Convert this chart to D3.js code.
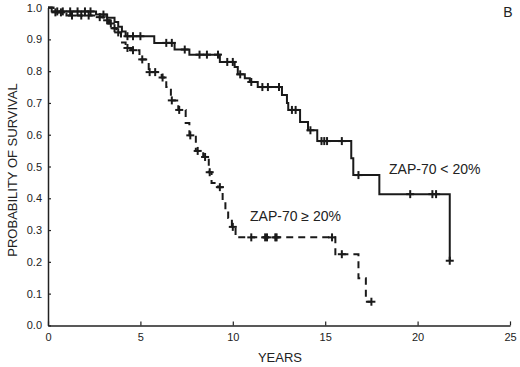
<!DOCTYPE html>
<html><head><meta charset="utf-8">
<script src="https://cdn.jsdelivr.net/npm/d3@7"></script>
<style>
body{margin:0;background:#fff;}
svg{display:block;}
text{font-family:"Liberation Sans",Arial,sans-serif;fill:#222;}
</style></head>
<body>
<svg id="c" width="520" height="367"></svg>
<script>
// ZAP-70 < 20% (solid)
const lowTimes = [0,0.2,2.6,3.2,3.6,3.8,4.0,4.2,5.75,6.85,7.65,9.3,10.1,10.27,10.65,10.92,11.35,12.66,12.93,13.0,13.64,14.07,14.57,16.41,16.52,17.93,21.74];
const lowSurv  = [1.0,0.988,0.978,0.968,0.955,0.94,0.925,0.91,0.889,0.868,0.852,0.829,0.813,0.79,0.778,0.766,0.75,0.725,0.70,0.678,0.64,0.614,0.58,0.526,0.473,0.413,0.2035];
const lowEnd = 21.74;
const lowCensor = [0.5,0.8,1.2,1.6,2.0,2.3,3.0,4.3,4.6,5.0,6.4,6.7,7.4,8.2,8.6,9.2,9.7,10.0,10.4,11.0,11.6,11.9,12.5,13.2,13.4,14.2,14.8,14.95,15.1,15.9,16.8,19.6,20.8,21.0,21.74];

// ZAP-70 >= 20% (dashed)
const highTimes = [0,0.3,1.0,2.7,3.1,3.3,3.5,3.7,3.95,4.2,4.5,4.95,5.45,6.15,6.4,6.65,7.05,7.45,7.65,8.0,8.4,8.7,8.85,9.2,9.45,9.6,9.75,9.95,10.15,15.55,16.8,17.2];
const highSurv  = [1.0,0.985,0.975,0.97,0.96,0.95,0.935,0.922,0.89,0.873,0.866,0.837,0.797,0.78,0.75,0.708,0.678,0.637,0.598,0.549,0.53,0.482,0.448,0.435,0.394,0.362,0.338,0.31,0.277,0.224,0.148,0.0745];
const highEnd = 17.5;
const highCensor = [0.4,0.7,1.3,1.8,2.2,2.8,3.2,3.4,3.6,3.8,4.3,4.6,5.1,5.5,5.8,6.2,6.7,7.1,7.7,8.1,8.5,8.75,9.3,10.0,11.0,11.75,11.85,12.3,12.37,15.37,15.9,17.5];

const xTicks = [0,5,10,15,20,25];
const yTicks = [0,0.1,0.2,0.3,0.4,0.5,0.6,0.7,0.8,0.9,1.0];

const svg = d3.select("#c");
const x = d3.scaleLinear().domain([0,25]).range([48,510]);
const y = d3.scaleLinear().domain([0,1]).range([325.4,7.6]);

// axes
const xAxis = d3.axisBottom(x).tickValues(xTicks).tickSizeInner(-4).tickSizeOuter(0).tickPadding(8).tickFormat(d3.format("d"));
const gx = svg.append("g").attr("transform",`translate(0,${y(0)})`).call(xAxis);
const yAxis = d3.axisLeft(y).tickValues(yTicks).tickSizeInner(-3).tickSizeOuter(0).tickPadding(6).tickFormat(d3.format(".1f"));
const gy = svg.append("g").attr("transform",`translate(${x(0)},0)`).call(yAxis);
[gx,gy].forEach(g=>{
  g.select(".domain").attr("stroke","#222").attr("stroke-width",1.5);
  g.selectAll(".tick line").attr("stroke","#222").attr("stroke-width",1.2);
  g.selectAll(".tick text").style("font-family","'Liberation Sans',Arial,sans-serif").style("font-size","11px").attr("fill","#222");
});

function pts(times, surv, end){
  const p = times.map((t,i)=>[t,surv[i]]);
  p.push([end, surv[surv.length-1]]);
  return p;
}
function survAt(times, surv, t){
  let v = surv[0];
  for(let i=0;i<times.length;i++){ if(times[i] <= t + 1e-9) v = surv[i]; }
  return v;
}
const line = d3.line().x(d=>x(d[0])).y(d=>y(d[1])).curve(d3.curveStepAfter);

svg.append("path").datum(pts(lowTimes,lowSurv,lowEnd)).attr("d",line)
  .attr("fill","none").attr("stroke","#1a1a1a").attr("stroke-width",2);
svg.append("path").datum(pts(highTimes,highSurv,highEnd)).attr("d",line)
  .attr("fill","none").attr("stroke","#1a1a1a").attr("stroke-width",2).attr("stroke-dasharray","7,5");

function marks(times,surv,cens){
  const g = svg.append("g").attr("stroke","#1a1a1a").attr("stroke-width",2);
  cens.forEach(t=>{
    const cx = x(t), cy = y(survAt(times,surv,t));
    g.append("line").attr("x1",cx).attr("x2",cx).attr("y1",cy-4).attr("y2",cy+4);
    g.append("line").attr("x1",cx-4).attr("x2",cx+4).attr("y1",cy).attr("y2",cy);
  });
}
marks(lowTimes,lowSurv,lowCensor);
marks(highTimes,highSurv,highCensor);

// labels
svg.append("text").attr("x",389).attr("y",174).style("font-size","14px").text("ZAP-70 < 20%");
svg.append("text").attr("x",250).attr("y",221).style("font-size","14px").text("ZAP-70 \u2265 20%");
svg.append("text").attr("x",280).attr("y",362).attr("text-anchor","middle").style("font-size","13px").text("YEARS");
svg.append("text").attr("transform","translate(17,170) rotate(-90)").attr("text-anchor","middle").style("font-size","13px").text("PROBABILITY OF SURVIVAL");
svg.append("text").attr("x",508).attr("y",17).attr("text-anchor","middle").style("font-size","14px").text("B");
</script>
</body></html>
